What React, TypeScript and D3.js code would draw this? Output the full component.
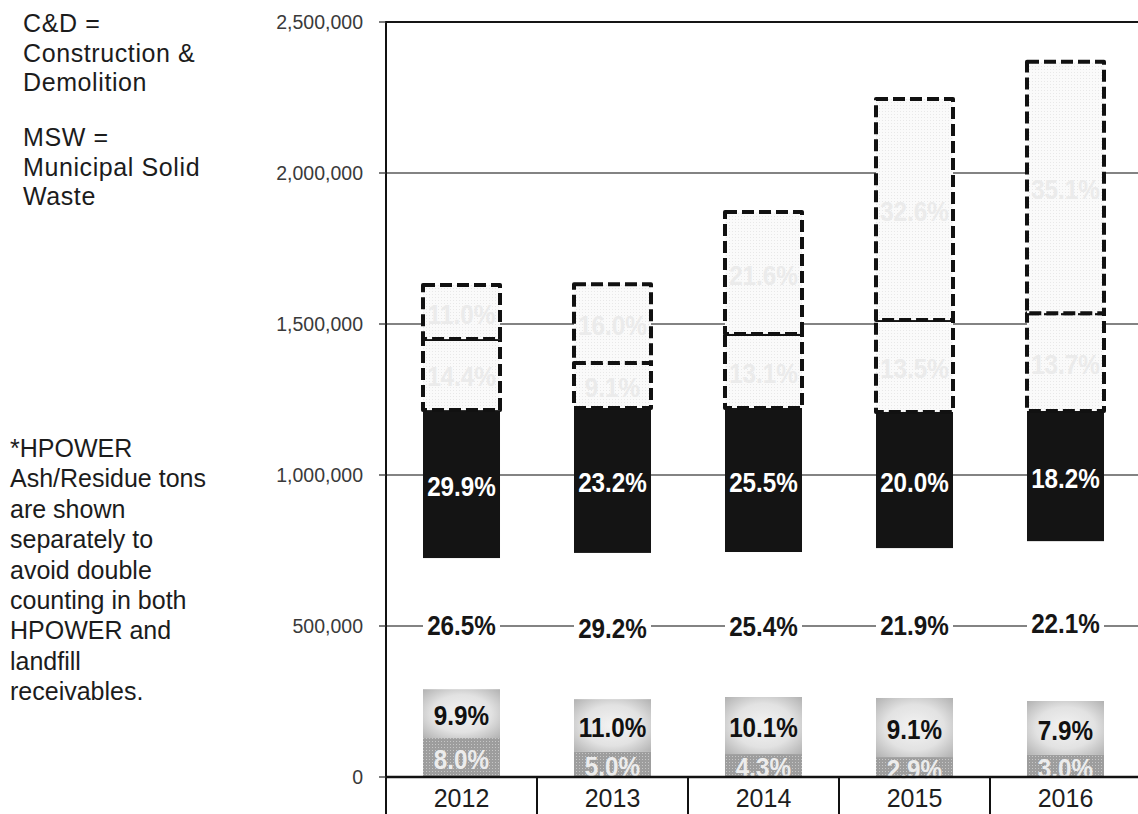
import * as React from 'react'
import { scaleBand, scaleLinear, stack, format } from 'd3'

// tons per year, bottom segment first
const years = ['2012', '2013', '2014', '2015', '2016']
const ashTons = [129000, 83000, 76000, 66000, 73000]
const lightTons = [162000, 175000, 189000, 196000, 179000]
const whiteTons = [434000, 484000, 480000, 496000, 529000]
const blackTons = [490000, 480000, 477000, 451000, 431000]
const dottedLowTons = [235000, 149000, 245000, 304000, 324000]
const dottedHighTons = [179000, 261000, 404000, 732000, 832000]

const ashLabels = ['8.0%', '5.0%', '4.3%', '2.9%', '3.0%']
const lightLabels = ['9.9%', '11.0%', '10.1%', '9.1%', '7.9%']
const whiteLabels = ['26.5%', '29.2%', '25.4%', '21.9%', '22.1%']
const blackLabels = ['29.9%', '23.2%', '25.5%', '20.0%', '18.2%']
const dottedLowLabels = ['14.4%', '9.1%', '13.1%', '13.5%', '13.7%']
const dottedHighLabels = ['11.0%', '16.0%', '21.6%', '32.6%', '35.1%']

const yTicks = [0, 500000, 1000000, 1500000, 2000000, 2500000]

const noteTop = ['C&D =', 'Construction &', 'Demolition']
const noteMid = ['MSW =', 'Municipal Solid', 'Waste']
const noteBottom = [
  '*HPOWER',
  'Ash/Residue tons',
  'are shown',
  'separately to',
  'avoid double',
  'counting in both',
  'HPOWER and',
  'landfill',
  'receivables.',
]

const keys = ['ash', 'light', 'white', 'black', 'dottedLow', 'dottedHigh']
const columns: Record<string, number[]> = {
  ash: ashTons,
  light: lightTons,
  white: whiteTons,
  black: blackTons,
  dottedLow: dottedLowTons,
  dottedHigh: dottedHighTons,
}
const labels: Record<string, string[]> = {
  ash: ashLabels,
  light: lightLabels,
  white: whiteLabels,
  black: blackLabels,
  dottedLow: dottedLowLabels,
  dottedHigh: dottedHighLabels,
}

const table = years.map((year, i) => {
  const row: Record<string, number | string> = { year }
  keys.forEach((k) => (row[k] = columns[k][i]))
  return row
})

const W = 1138
const H = 814
const left = 386
const right = 1141
const top = 22
const bottom = 777
const font = "'Liberation Sans', Arial, Helvetica, sans-serif"

function App() {
  const x = scaleBand<string>().domain(years).range([left, right]).paddingInner(0.49).paddingOuter(0.245)
  const y = scaleLinear().domain([0, 2500000]).range([bottom, top])
  const series = stack<Record<string, number | string>>()
    .keys(keys)
    .value((d, k) => d[k] as number)(table)
  const step = x.step()
  const cellLeft = (year: string) => (x(year) ?? 0) - (step - x.bandwidth()) / 2
  const fmt = format(',')

  const fillFor = (key: string) => {
    if (key === 'ash') return 'url(#dotsDark)'
    if (key === 'light') return 'url(#lightGrad)'
    if (key === 'white') return '#ffffff'
    if (key === 'black') return '#141414'
    return 'url(#dotsLight)'
  }
  const textFill = (key: string) => {
    if (key === 'ash') return '#ececec'
    if (key === 'light') return '#111'
    if (key === 'white') return '#161616'
    if (key === 'black') return '#ffffff'
    return '#ebebeb'
  }

  return (
    <svg width={W} height={H} style={{ position: 'absolute', left: 0, top: 0, background: '#fff' }}>
      <defs>
        <pattern id="dotsDark" width={3} height={3} patternUnits="userSpaceOnUse">
          <rect width={3} height={3} fill="#9d9d9d" />
          <rect width={1} height={1} fill="#c6c6c6" />
        </pattern>
        <pattern id="dotsLight" width={3} height={3} patternUnits="userSpaceOnUse">
          <rect width={3} height={3} fill="#fafafa" />
          <rect width={1} height={1} fill="#e8e8e8" />
        </pattern>
        <radialGradient id="lightGrad" cx="50%" cy="50%" r="70%">
          <stop offset="0%" stopColor="#f3f3f3" />
          <stop offset="55%" stopColor="#e2e2e2" />
          <stop offset="100%" stopColor="#b2b2b2" />
        </radialGradient>
      </defs>

      {/* gridlines */}
      {yTicks.slice(1, -1).map((t) => (
        <line key={t} x1={left} x2={W} y1={y(t)} y2={y(t)} stroke="#5a5a5a" strokeWidth={1.3} />
      ))}
      <line x1={left} x2={W} y1={y(2500000)} y2={y(2500000)} stroke="#151515" strokeWidth={2} />

      {/* stacked bars */}
      {series.map((s) =>
        s.map((d, i) => {
          const key = s.key
          const dashed = key === 'dottedLow' || key === 'dottedHigh'
          const year = years[i]
          return (
            <rect
              key={`${key}-${year}`}
              x={x(year)}
              y={y(d[1])}
              width={x.bandwidth()}
              height={y(d[0]) - y(d[1])}
              fill={fillFor(key)}
              stroke={dashed ? '#111' : 'none'}
              strokeWidth={dashed ? 4 : 0}
              strokeDasharray={dashed ? '12 5' : undefined}
              strokeLinejoin="round"
            />
          )
        })
      )}

      {/* segment labels */}
      {series.map((s) =>
        s.map((d, i) => {
          const key = s.key
          const year = years[i]
          const cx = (x(year) ?? 0) + x.bandwidth() / 2
          const cy = (y(d[0]) + y(d[1])) / 2 + 2
          return (
            <text
              key={`lab-${key}-${year}`}
              transform={`translate(${cx},${cy}) scale(0.97,1.12)`}
              textAnchor="middle"
              dominantBaseline="central"
              fontFamily={font}
              fontWeight="bold"
              fontSize={25}
              fill={textFill(key)}
            >
              {labels[key][i]}
            </text>
          )
        })
      )}

      {/* y axis */}
      <line x1={left} x2={left} y1={top - 1} y2={H} stroke="#111" strokeWidth={2} />
      {yTicks.map((t) => (
        <g key={`tick-${t}`}>
          <line x1={left - 7} x2={left} y1={y(t)} y2={y(t)} stroke="#333" strokeWidth={1.3} />
          <text
            x={363}
            y={y(t)}
            textAnchor="end"
            dominantBaseline="central"
            fontFamily={font}
            fontSize={19.5}
            fill="#3a3a3a"
          >
            {fmt(t)}
          </text>
        </g>
      ))}

      {/* x axis as a table row */}
      <line x1={left} x2={W} y1={bottom} y2={bottom} stroke="#111" strokeWidth={2.5} />
      {years.slice(1).map((yr) => (
        <line key={`div-${yr}`} x1={cellLeft(yr)} x2={cellLeft(yr)} y1={bottom} y2={H} stroke="#111" strokeWidth={2} />
      ))}
      {years.map((yr) => (
        <text
          key={`yr-${yr}`}
          x={(x(yr) ?? 0) + x.bandwidth() / 2}
          y={807}
          textAnchor="middle"
          fontFamily={font}
          fontSize={25}
          fill="#1e1e1e"
        >
          {yr}
        </text>
      ))}

      {/* side notes */}
      <g fontFamily={font} fontSize={25} fill="#1c1c1c">
        {noteTop.map((line, i) => (
          <text key={`nt-${i}`} x={23} y={32 + i * 29.5} letterSpacing={0.6}>
            {line}
          </text>
        ))}
        {noteMid.map((line, i) => (
          <text key={`nm-${i}`} x={23} y={146 + i * 29.5} letterSpacing={0.6}>
            {line}
          </text>
        ))}
        {noteBottom.map((line, i) => (
          <text key={`nb-${i}`} x={10} y={457 + i * 30.4}>
            {line}
          </text>
        ))}
      </g>
    </svg>
  )
}

export default App
